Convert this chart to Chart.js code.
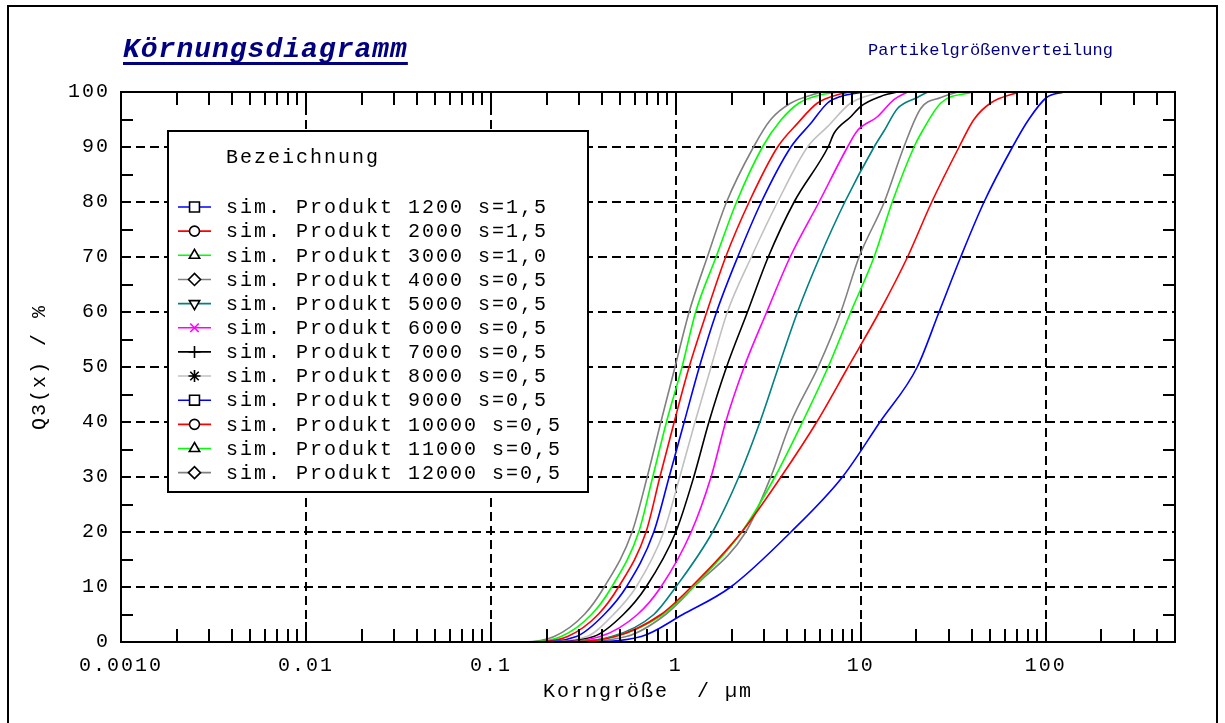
<!DOCTYPE html>
<html><head><meta charset="utf-8">
<script src="https://cdn.jsdelivr.net/npm/chart.js@4/dist/chart.umd.min.js"></script>
<style>html,body{margin:0;padding:0;background:#fff;}#wrap{width:1225px;height:723px;position:relative;}</style>
</head><body><div id="wrap"><canvas id="c" width="1225" height="723"></canvas></div>
<script>
// ---------- data ----------
const seriesLabels = [
  'sim. Produkt 1200 s=1,5','sim. Produkt 2000 s=1,5','sim. Produkt 3000 s=1,0',
  'sim. Produkt 4000 s=0,5','sim. Produkt 5000 s=0,5','sim. Produkt 6000 s=0,5',
  'sim. Produkt 7000 s=0,5','sim. Produkt 8000 s=0,5','sim. Produkt 9000 s=0,5',
  'sim. Produkt 10000 s=0,5','sim. Produkt 11000 s=0,5','sim. Produkt 12000 s=0,5'];
const seriesColors = ['#0000ff','#ff0000','#00ff00','#808080','#008080','#ff00ff',
  '#000000','#c0c0c0','#0000ff','#ff0000','#00ff00','#808080'];
const seriesMarkers = ['rect','circle','triangle','rectRot','triangleDown','crossRot',
  'cross','star','rect','circle','triangle','rectRot'];

// particle size (µm) and cumulative Q3 (%) per product
const size_1200  = [0.006, 0.30, 0.65, 1.09, 1.98, 4.19, 7.96, 12.7, 20.2, 26.5, 34.7, 46.4, 66.1, 80.9, 101, 125];
const q_1200     = [0, 0, 1, 5, 10, 20, 30, 40, 50, 60, 70, 80, 90, 95, 99, 100];
const size_2000  = [0.006, 0.22, 0.47, 0.83, 1.21, 2.27, 3.70, 5.78, 8.54, 12.6, 17.9, 24.2, 34.0, 40.9, 50.4, 71.5];
const q_2000     = [0, 0, 1, 5, 10, 20, 30, 40, 50, 60, 70, 80, 90, 95, 98, 100];
const size_3000  = [0.006, 0.22, 0.47, 0.85, 1.24, 2.27, 3.43, 4.84, 6.66, 8.83, 11.8, 14.8, 19.4, 21.6, 27.1, 40.2];
const q_3000     = [0, 0, 1, 5, 10, 20, 30, 40, 50, 60, 70, 80, 90, 93, 98, 100];
const size_4000  = [0.006, 0.24, 0.54, 0.88, 1.25, 2.39, 3.26, 4.19, 5.88, 7.80, 9.79, 13.4, 17.1, 21.1, 27.1, 33.4];
const q_4000     = [0, 0, 1, 5, 10, 20, 30, 40, 50, 60, 70, 80, 90, 97, 99, 100];
const size_5000  = [0.006, 0.22, 0.45, 0.76, 1.00, 1.58, 2.19, 2.85, 3.59, 4.55, 6.00, 8.20, 11.8, 13.4, 15.8, 20.2, 23.0];
const q_5000     = [0, 0, 1, 5, 10, 20, 30, 40, 50, 60, 70, 80, 90, 93, 97, 99, 100];
const size_6000  = [0.006, 0.20, 0.39, 0.62, 0.83, 1.21, 1.55, 1.86, 2.34, 3.10, 4.15, 5.95, 8.48, 9.6, 12.3, 15.1, 17.9];
const q_6000     = [0, 0, 1, 5, 10, 20, 30, 40, 50, 60, 70, 80, 90, 93, 95.5, 98.6, 100];
const size_7000  = [0.006, 0.19, 0.36, 0.52, 0.69, 1.00, 1.25, 1.51, 1.88, 2.44, 3.16, 4.36, 6.66, 7.17, 8.83, 10.0, 12.8, 15.8];
const q_7000     = [0, 0, 1, 5, 10, 20, 30, 40, 50, 60, 70, 80, 90, 92.5, 95.5, 97.4, 99.2, 100];
const size_8000  = [0.003, 0.18, 0.33, 0.46, 0.61, 0.86, 1.05, 1.27, 1.55, 1.90, 2.56, 3.55, 5.15, 6.61, 8.83, 12.8];
const q_8000     = [0, 0, 1, 5, 10, 20, 30, 40, 50, 60, 70, 80, 90, 93.7, 98, 100];
const size_9000  = [0.006, 0.17, 0.29, 0.41, 0.54, 0.76, 0.92, 1.11, 1.34, 1.66, 2.16, 2.90, 4.19, 5.37, 6.61, 7.80, 10.4];
const q_9000     = [0, 0, 1, 5, 10, 20, 30, 40, 50, 60, 70, 80, 90, 94.3, 98, 99.2, 100];
const size_10000 = [0.006, 0.17, 0.26, 0.38, 0.49, 0.69, 0.82, 0.98, 1.18, 1.47, 1.86, 2.49, 3.55, 4.55, 5.83, 7.48, 8.83];
const q_10000    = [0, 0, 1, 5, 10, 20, 30, 40, 50, 60, 70, 80, 90, 94.3, 98, 99.5, 100];
const size_11000 = [0.006, 0.16, 0.24, 0.35, 0.45, 0.63, 0.75, 0.89, 1.08, 1.28, 1.65, 2.13, 2.94, 3.70, 4.64, 6.08, 7.80];
const q_11000    = [0, 0, 1, 5, 10, 20, 30, 40, 50, 60, 70, 80, 90, 94.9, 98, 99.5, 100];
const size_12000 = [0.006, 0.15, 0.22, 0.32, 0.41, 0.58, 0.70, 0.83, 0.99, 1.18, 1.48, 1.88, 2.63, 3.26, 4.19, 6.08];
const q_12000    = [0, 0, 1, 5, 10, 20, 30, 40, 50, 60, 70, 80, 90, 95, 98, 100];

const xTickValues = [0.001, 0.01, 0.1, 1, 10, 100];
const xTickLabels = ['0.0010', '0.01', '0.1', '1', '10', '100'];
const yTickValues = [0, 10, 20, 30, 40, 50, 60, 70, 80, 90, 100];
const yTickLabels = ['0', '10', '20', '30', '40', '50', '60', '70', '80', '90', '100'];

const titleLeft = 'Körnungsdiagramm';
const titleRight = 'Partikelgrößenverteilung';
const legendTitle = 'Bezeichnung';
const xTitle = 'Korngröße  / µm';
const yTitle = 'Q3(x) / %';

// ---------- build ----------
const sizes = [size_1200,size_2000,size_3000,size_4000,size_5000,size_6000,size_7000,size_8000,size_9000,size_10000,size_11000,size_12000];
const qs = [q_1200,q_2000,q_3000,q_4000,q_5000,q_6000,q_7000,q_8000,q_9000,q_10000,q_11000,q_12000];

const MONO = '"Liberation Mono", "DejaVu Sans Mono", monospace';
const SPACING = '2px';

const datasets = seriesLabels.map((lab, i) => ({
  label: lab,
  data: sizes[i].map((s, j) => ({x: s, y: qs[i][j]})),
  borderColor: seriesColors[i],
  backgroundColor: seriesColors[i],
  borderWidth: 1.6,
  pointRadius: 0,
  pointHoverRadius: 0,
  cubicInterpolationMode: 'monotone',
  fill: false,
  marker: seriesMarkers[i]
}));

const spacingPlugin = {
  id: 'spacing',
  beforeLayout(c) { c.ctx.letterSpacing = SPACING; },
  beforeDraw(c) { c.ctx.letterSpacing = SPACING; }
};

const decorPlugin = {
  id: 'decor',
  afterDraw(chart) {
    const ctx = chart.ctx;
    const ca = chart.chartArea;
    const xs = chart.scales.x, ys = chart.scales.y;
    ctx.save();
    ctx.letterSpacing = '0px';
    // minor / major ticks pointing inward
    ctx.strokeStyle = '#000';
    ctx.lineWidth = 2;
    ctx.beginPath();
    for (let d = 0; d < xTickValues.length; d++) {
      const dec = xTickValues[d];
      for (let k = 1; k <= 9; k++) {
        const v = dec * k;
        if (v > xs.max || v < xs.min) continue;
        const px = Math.round(xs.getPixelForValue(v));
        const len = k === 1 ? 20 : 13;
        ctx.moveTo(px, ca.bottom); ctx.lineTo(px, ca.bottom - len);
        ctx.moveTo(px, ca.top); ctx.lineTo(px, ca.top + len);
      }
    }
    for (let i = 0; i < yTickValues.length - 1; i++) {
      const v = (yTickValues[i] + yTickValues[i + 1]) / 2;
      const py = Math.round(ys.getPixelForValue(v));
      ctx.moveTo(ca.left, py); ctx.lineTo(ca.left + 12, py);
      ctx.moveTo(ca.right, py); ctx.lineTo(ca.right - 12, py);
    }
    ctx.stroke();
    // plot frame
    ctx.strokeRect(ca.left, ca.top, ca.right - ca.left, ca.bottom - ca.top);
    // outer frame
    ctx.beginPath();
    ctx.moveTo(8, chart.height + 2); ctx.lineTo(8, 6); ctx.lineTo(1217, 6); ctx.lineTo(1217, chart.height + 2);
    ctx.stroke();

    // titles
    ctx.fillStyle = '#000080';
    ctx.textBaseline = 'alphabetic';
    ctx.textAlign = 'left';
    ctx.font = 'italic bold 28px ' + MONO;
    ctx.letterSpacing = '1px';
    ctx.fillText(titleLeft, 123, 57);
    const tw = ctx.measureText(titleLeft).width;
    ctx.fillRect(123, 62, tw, 3);
    ctx.font = '17px ' + MONO;
    ctx.letterSpacing = '0px';
    ctx.fillText(titleRight, 868, 55);

    // legend box
    const bx = 168, by = 131, bw = 420, bh = 361;
    ctx.fillStyle = '#fff';
    ctx.fillRect(bx, by, bw, bh);
    ctx.strokeStyle = '#000';
    ctx.lineWidth = 2;
    ctx.strokeRect(bx, by, bw, bh);
    ctx.fillStyle = '#000';
    ctx.font = '20px ' + MONO;
    ctx.letterSpacing = SPACING;
    ctx.textBaseline = 'middle';
    ctx.fillText(legendTitle, 226, 158);
    chart.data.datasets.forEach((ds, i) => {
      const y = 207 + i * 24.15;
      ctx.strokeStyle = ds.borderColor;
      ctx.lineWidth = 1.6;
      ctx.beginPath(); ctx.moveTo(178, y); ctx.lineTo(211, y); ctx.stroke();
      let style = ds.marker, rot = 0, r = 6;
      if (style === 'triangleDown') { style = 'triangle'; rot = 180; }
      if (style === 'rect') r = 7;
      if (style === 'circle') r = 5;
      const mcol = ds.borderColor === '#ff00ff' ? '#ff00ff' : '#000';
      ctx.strokeStyle = mcol; ctx.fillStyle = '#fff';
      Chart.helpers.drawPoint(ctx, {pointStyle: style, rotation: rot, radius: r, borderWidth: 1.4}, 194.5, y);
      ctx.fillStyle = '#000';
      ctx.fillText(ds.label, 226, y + 1);
    });
    ctx.restore();
  }
};

Chart.defaults.font.family = MONO;
Chart.defaults.color = '#000';

new Chart(document.getElementById('c'), {
  type: 'line',
  data: { datasets },
  options: {
    responsive: false,
    animation: false,
    devicePixelRatio: 1,
    layout: { padding: { left: 0, top: 92, right: 50, bottom: 0 } },
    plugins: { legend: { display: false }, tooltip: { enabled: false }, title: { display: false } },
    scales: {
      x: {
        type: 'logarithmic',
        min: 0.001, max: 500,
        afterBuildTicks(s) { s.ticks = xTickValues.map(v => ({value: v})); },
        afterFit(s) { s.height = 81; },
        ticks: {
          autoSkip: false, maxRotation: 0, minRotation: 0, padding: 12,
          font: { size: 20 },
          callback(v) { const i = xTickValues.indexOf(v); return i >= 0 ? xTickLabels[i] : ''; }
        },
        grid: { color: '#000', lineWidth: 2, drawTicks: false },
        border: { display: true, color: '#000', width: 2, dash: [9, 5] },
        title: { display: true, text: xTitle, font: { size: 20 }, padding: { top: 0, bottom: 19 } }
      },
      y: {
        type: 'linear',
        min: 0, max: 100,
        afterBuildTicks(s) { s.ticks = yTickValues.map(v => ({value: v})); },
        afterFit(s) { s.width = 121; },
        ticks: {
          padding: 11, font: { size: 20 },
          callback(v) { const i = yTickValues.indexOf(v); return i >= 0 ? yTickLabels[i] : ''; }
        },
        grid: { color: '#000', lineWidth: 2, drawTicks: false },
        border: { display: true, color: '#000', width: 2, dash: [9, 5] },
        title: { display: true, text: yTitle, font: { size: 20 }, padding: { top: 28, bottom: 0 } }
      }
    }
  },
  plugins: [spacingPlugin, decorPlugin]
});
</script>
</body></html>
